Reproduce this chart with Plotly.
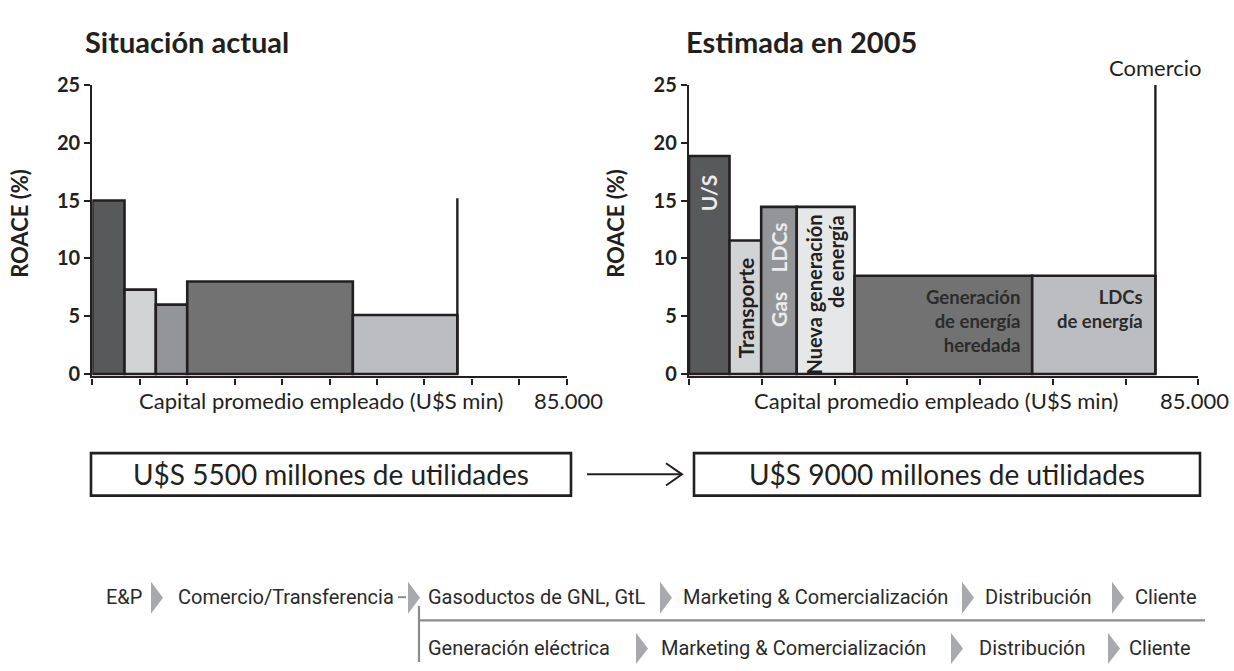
import numpy as np
import plotly.graph_objects as go

W, H = 1234, 671

# ---------------- data ----------------
left_widths = [5770, 5610, 5630, 29670, 18730]          # capital empleado (U$S millones)
left_roace = [15.0, 7.3, 6.0, 8.0, 5.1]                  # ROACE (%)
left_comercio = 15.2

right_labels = ["U/S", "Transporte", "Gas LDCs", "Nueva generación de energía",
                "Generación de energía heredada", "LDCs de energía"]
right_widths = [6760, 5290, 5930, 9660, 29640, 20560]
right_roace = [18.85, 11.55, 14.45, 14.45, 8.5, 8.5]
right_comercio = 25.0

y_ticks = [0, 5, 10, 15, 20, 25]
x_max = 85000
x_max_label = "85.000"

left_colors = ["#58595b", "#d1d3d4", "#939598", "#727272", "#bcbdc0"]
right_colors = ["#58595b", "#d1d3d4", "#939598", "#e6e7e8", "#727272", "#bcbdc0"]

EDGE = "#231f20"
FONT = "Lato"
ROW_FONT = "Roboto"


def P(x):
    return x / W


def Q(y):
    return 1 - y / H


left_x0 = np.concatenate([[0], np.cumsum(left_widths)[:-1]])
right_x0 = np.concatenate([[0], np.cumsum(right_widths)[:-1]])
left_end = float(np.sum(left_widths))
right_end = float(np.sum(right_widths))

fig = go.Figure()
fig.add_trace(go.Bar(x=left_x0, y=left_roace, width=left_widths, offset=0,
                     marker=dict(color=left_colors, line=dict(color=EDGE, width=2.6)),
                     xaxis="x", yaxis="y", hoverinfo="skip", showlegend=False))
fig.add_trace(go.Scatter(x=[left_end, left_end], y=[0, left_comercio], mode="lines",
                         line=dict(color=EDGE, width=2.4), xaxis="x", yaxis="y",
                         hoverinfo="skip", showlegend=False))
fig.add_trace(go.Bar(x=right_x0, y=right_roace, width=right_widths, offset=0,
                     marker=dict(color=right_colors, line=dict(color=EDGE, width=2.6)),
                     xaxis="x2", yaxis="y2", hoverinfo="skip", showlegend=False))
fig.add_trace(go.Scatter(x=[right_end, right_end], y=[0, right_comercio], mode="lines",
                         line=dict(color=EDGE, width=2.4), xaxis="x2", yaxis="y2",
                         hoverinfo="skip", showlegend=False))

ydom = [Q(375.7), Q(74.3)]
common_x = dict(range=[0, x_max], showticklabels=False, ticks="outside", ticklen=6,
                tickwidth=2.4, tickcolor=EDGE, showline=True, linecolor=EDGE, linewidth=2.4,
                showgrid=False, zeroline=False, fixedrange=True)
common_y = dict(range=[-0.2, 25], tickvals=y_ticks, ticks="outside", ticklen=6, tickwidth=2.4,
                tickcolor=EDGE, showline=True, linecolor=EDGE, linewidth=2.4, showgrid=False,
                zeroline=False, domain=ydom,
                tickfont=dict(family=FONT, size=20, color=EDGE, weight=700), fixedrange=True)

fig.update_layout(
    width=W, height=H, autosize=False,
    margin=dict(l=0, r=0, t=0, b=0),
    paper_bgcolor="white", plot_bgcolor="rgba(0,0,0,0)",
    barmode="overlay",
    xaxis=dict(domain=[P(92.3), P(566.7)], tickvals=[i * x_max / 10 for i in range(11)],
               anchor="y", **common_x),
    yaxis=dict(anchor="x", **common_y),
    xaxis2=dict(domain=[P(689), P(1198.3)], tickvals=[i * x_max / 7 for i in range(8)],
                anchor="y2", **common_x),
    yaxis2=dict(anchor="x2", **common_y),
)

ann = []


def txt(text, x, y, size, bold=False, color=EDGE, xanchor="center", yanchor="middle",
        xref="paper", yref="paper", angle=0, family=FONT, xshift=0, yshift=0, align="center"):
    ann.append(dict(text=text, x=x, y=y, xref=xref, yref=yref, xanchor=xanchor, yanchor=yanchor,
                    showarrow=False, textangle=angle, xshift=xshift, yshift=yshift, align=align,
                    font=dict(family=family, size=size, color=color, weight=700 if bold else 400)))


# titles
txt("Situación actual", P(82.7), Q(29), 29, bold=True, xanchor="left")
txt("Estimada en 2005", P(684), Q(29), 29, bold=True, xanchor="left")
txt("ROACE (%)", P(20), Q(218), 22, bold=True, angle=-90)
txt("ROACE (%)", P(616), Q(218), 22, bold=True, angle=-90)
txt("Comercio", right_end, Q(56), 22, xref="x2")

# x captions
txt("Capital promedio empleado (U$S min)", P(136.7), Q(401), 22, xanchor="left")
txt("Capital promedio empleado (U$S min)", P(752), Q(401), 22, xanchor="left")
txt(x_max_label, x_max, Q(401), 22, xref="x", xshift=2)
txt(x_max_label, x_max, Q(401), 22, xref="x2", xshift=-4)

# labels inside the right bars
rc = right_x0 + np.array(right_widths) / 2
txt("U/S", rc[0], 15.66, 21, bold=True, color="#ececec", xref="x2", yref="y2", angle=-90)
txt("Transporte", rc[1], 5.71, 21, bold=True, xref="x2", yref="y2", angle=-90)
txt("Gas", rc[2], 5.63, 21, bold=True, color="#ececec", xref="x2", yref="y2", angle=-90)
txt("LDCs", rc[2], 10.94, 21, bold=True, color="#ececec", xref="x2", yref="y2", angle=-90)
txt("Nueva generación", rc[3], 13.93, 20, bold=True, xref="x2", yref="y2", angle=-90,
    yanchor="top", xshift=-12)
txt("de energía", rc[3], 13.93, 20, bold=True, xref="x2", yref="y2", angle=-90,
    yanchor="top", xshift=11)
gen_right = right_x0[4] + right_widths[4]
ldc_right = right_x0[5] + right_widths[5]
txt("Generación<br>de energía<br>heredada", gen_right, 7.75, 18.5, bold=True, color="#2b2b2b",
    xref="x2", yref="y2", xanchor="right", yanchor="top", xshift=-10, align="right")
txt("LDCs<br>de energía", ldc_right, 7.75, 18.5, bold=True, color="#2b2b2b",
    xref="x2", yref="y2", xanchor="right", yanchor="top", xshift=-10, align="right")

# profit boxes
txt("U$S 5500 millones de utilidades", P(331), Q(477), 28)
txt("U$S 9000 millones de utilidades", P(947), Q(477), 28)

shapes = []
for x0, x1 in [(91, 571), (694, 1200)]:
    shapes.append(dict(type="rect", xref="paper", yref="paper", x0=P(x0), x1=P(x1),
                       y0=Q(499), y1=Q(455), line=dict(color=EDGE, width=2.6)))
shapes.append(dict(type="line", xref="paper", yref="paper", x0=P(587), x1=P(681),
                   y0=Q(477), y1=Q(477), line=dict(color=EDGE, width=2)))
shapes.append(dict(type="path", xref="paper", yref="paper",
                   path=f"M {P(666)} {Q(465.5)} L {P(682)} {Q(477)} L {P(666)} {Q(488.5)}",
                   line=dict(color=EDGE, width=2)))

# value chain
row1 = ["E&P", "Comercio/Transferencia", "Gasoductos de GNL, GtL",
        "Marketing & Comercialización", "Distribución", "Cliente"]
row1_x = [104, 176, 426, 681, 983, 1133]
row1_chev = [151, 408, 660, 962, 1112]
row2 = ["Generación eléctrica", "Marketing & Comercialización", "Distribución", "Cliente"]
row2_x = [426, 659, 977, 1127]
row2_chev = [636, 951, 1108]

for t, x in zip(row1, row1_x):
    txt(t, P(x), Q(604), 20, xanchor="left", family=ROW_FONT, color="#2a2a2a")
for t, x in zip(row2, row2_x):
    txt(t, P(x), Q(657), 20, xanchor="left", family=ROW_FONT, color="#2a2a2a")

CHEV = "#a7a9ac"
for xs, ya, yb in [(row1_chev, 588, 621), (row2_chev, 641, 673)]:
    for x0 in xs:
        shapes.append(dict(type="path", xref="paper", yref="paper",
                           path=f"M {P(x0)} {Q(ya)} L {P(x0 + 12)} {Q((ya + yb) / 2)} L {P(x0)} {Q(yb)} Z",
                           fillcolor=CHEV, line=dict(width=0)))
GL = "#8a8b8d"
shapes.append(dict(type="line", xref="paper", yref="paper", x0=P(419), x1=P(1205),
                   y0=Q(628), y1=Q(628), line=dict(color=GL, width=2.2)))
shapes.append(dict(type="line", xref="paper", yref="paper", x0=P(419), x1=P(419),
                   y0=Q(613), y1=Q(671), line=dict(color=GL, width=2.2)))
shapes.append(dict(type="line", xref="paper", yref="paper", x0=P(398), x1=P(406),
                   y0=Q(604), y1=Q(604), line=dict(color=GL, width=2)))

fig.update_layout(annotations=ann, shapes=shapes)
fig.write_html("out.html", config={"displayModeBar": False},
               post_script="document.body.style.margin='0px';document.body.style.overflow='hidden';")
